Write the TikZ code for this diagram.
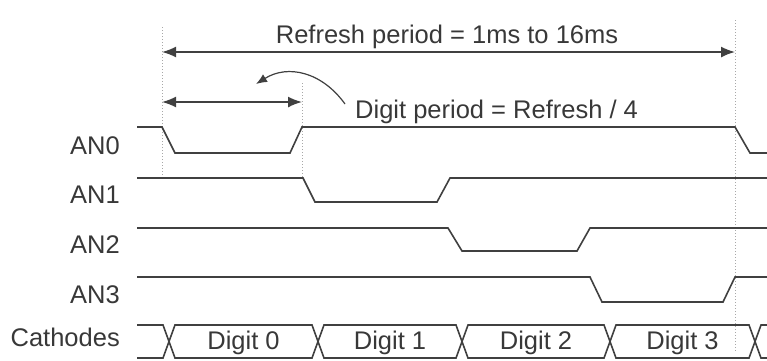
\documentclass[tikz,border=0pt]{standalone}
\usepackage{fontspec}
\setmainfont{Liberation Sans}
\usetikzlibrary{arrows.meta}
\definecolor{ink}{HTML}{404040}
\definecolor{txt}{HTML}{383838}
\definecolor{guide}{HTML}{A8A8A8}
\tikzset{
  wave/.style={draw=ink, line width=1.6pt, line join=miter},
  lbl/.style={inner sep=0pt, text=txt, font=\fontsize{25.5}{30}\selectfont},
  guideline/.style={draw=guide, line width=1pt, dotted},
  dimarrow/.style={draw=ink, line width=1.6pt, {Latex[length=14pt,width=11pt]}-{Latex[length=14pt,width=11pt]}},
  notearrow/.style={draw=ink, line width=1.2pt, -{Latex[length=11pt,width=9pt]}}
}
\begin{document}
\begin{tikzpicture}[x=1pt,y=-1pt]
\useasboundingbox (0,0) rectangle (767,360);
% guide lines
\coordinate (g0t) at (162,27); \coordinate (g0b) at (162,178);
\coordinate (g1t) at (302,83); \coordinate (g1b) at (302,178);
\coordinate (g2t) at (735,20); \coordinate (g2b) at (735,352);
\draw[guideline] (g0t) -- (g0b);
\draw[guideline] (g1t) -- (g1b);
\draw[guideline] (g2t) -- (g2b);
% dimension arrows
\coordinate (r0) at (162,52); \coordinate (r1) at (735,52);
\coordinate (d0) at (162,102); \coordinate (d1) at (302,102);
\draw[dimarrow] (r0) -- (r1);
\draw[dimarrow] (d0) -- (d1);
\node[lbl, anchor=base] (refresh) at (447,43) {Refresh period = 1ms to 16ms};
\node[lbl, anchor=base west] (digitp) at (355,118) {Digit period = Refresh / 4};
\coordinate (cs) at (345,104); \coordinate (ce) at (256,84);
\draw[notearrow] (cs) .. controls (322,72) and (288,64) .. (ce);
% signal labels
\node[lbl, anchor=base east] (an0) at (120,154) {AN0};
\node[lbl, anchor=base east] (an1) at (120,203) {AN1};
\node[lbl, anchor=base east] (an2) at (120,253) {AN2};
\node[lbl, anchor=base east] (an3) at (120,303) {AN3};
\node[lbl, anchor=base east] (cath) at (120,346) {Cathodes};
% waveforms
\draw[wave] (137,127) -- (162,127) -- (175,153) -- (290,153) -- (302,127) -- (735,127) -- (750,153) -- (767,153);
\draw[wave] (137,178) -- (303,178) -- (315,202) -- (437,202) -- (450,178) -- (767,178);
\draw[wave] (137,228) -- (448,228) -- (462,251) -- (577,251) -- (590,228) -- (767,228);
\draw[wave] (137,277) -- (590,277) -- (602,302) -- (723,302) -- (735,277) -- (767,277);
% cathode bus
\draw[wave] (137,325) -- (163,325) -- (175,358) -- (312,358) -- (324,325) -- (456,325) -- (468,358) -- (604,358) -- (616,325) -- (749,325) -- (761,358) -- (767,358);
\draw[wave] (137,358) -- (163,358) -- (175,325) -- (312,325) -- (324,358) -- (456,358) -- (468,325) -- (604,325) -- (616,358) -- (749,358) -- (761,325) -- (767,325);
\node[lbl, anchor=base] (dg0) at (243.5,349) {Digit 0};
\node[lbl, anchor=base] (dg1) at (390,349) {Digit 1};
\node[lbl, anchor=base] (dg2) at (536,349) {Digit 2};
\node[lbl, anchor=base] (dg3) at (682.5,349) {Digit 3};
\end{tikzpicture}
\end{document}
